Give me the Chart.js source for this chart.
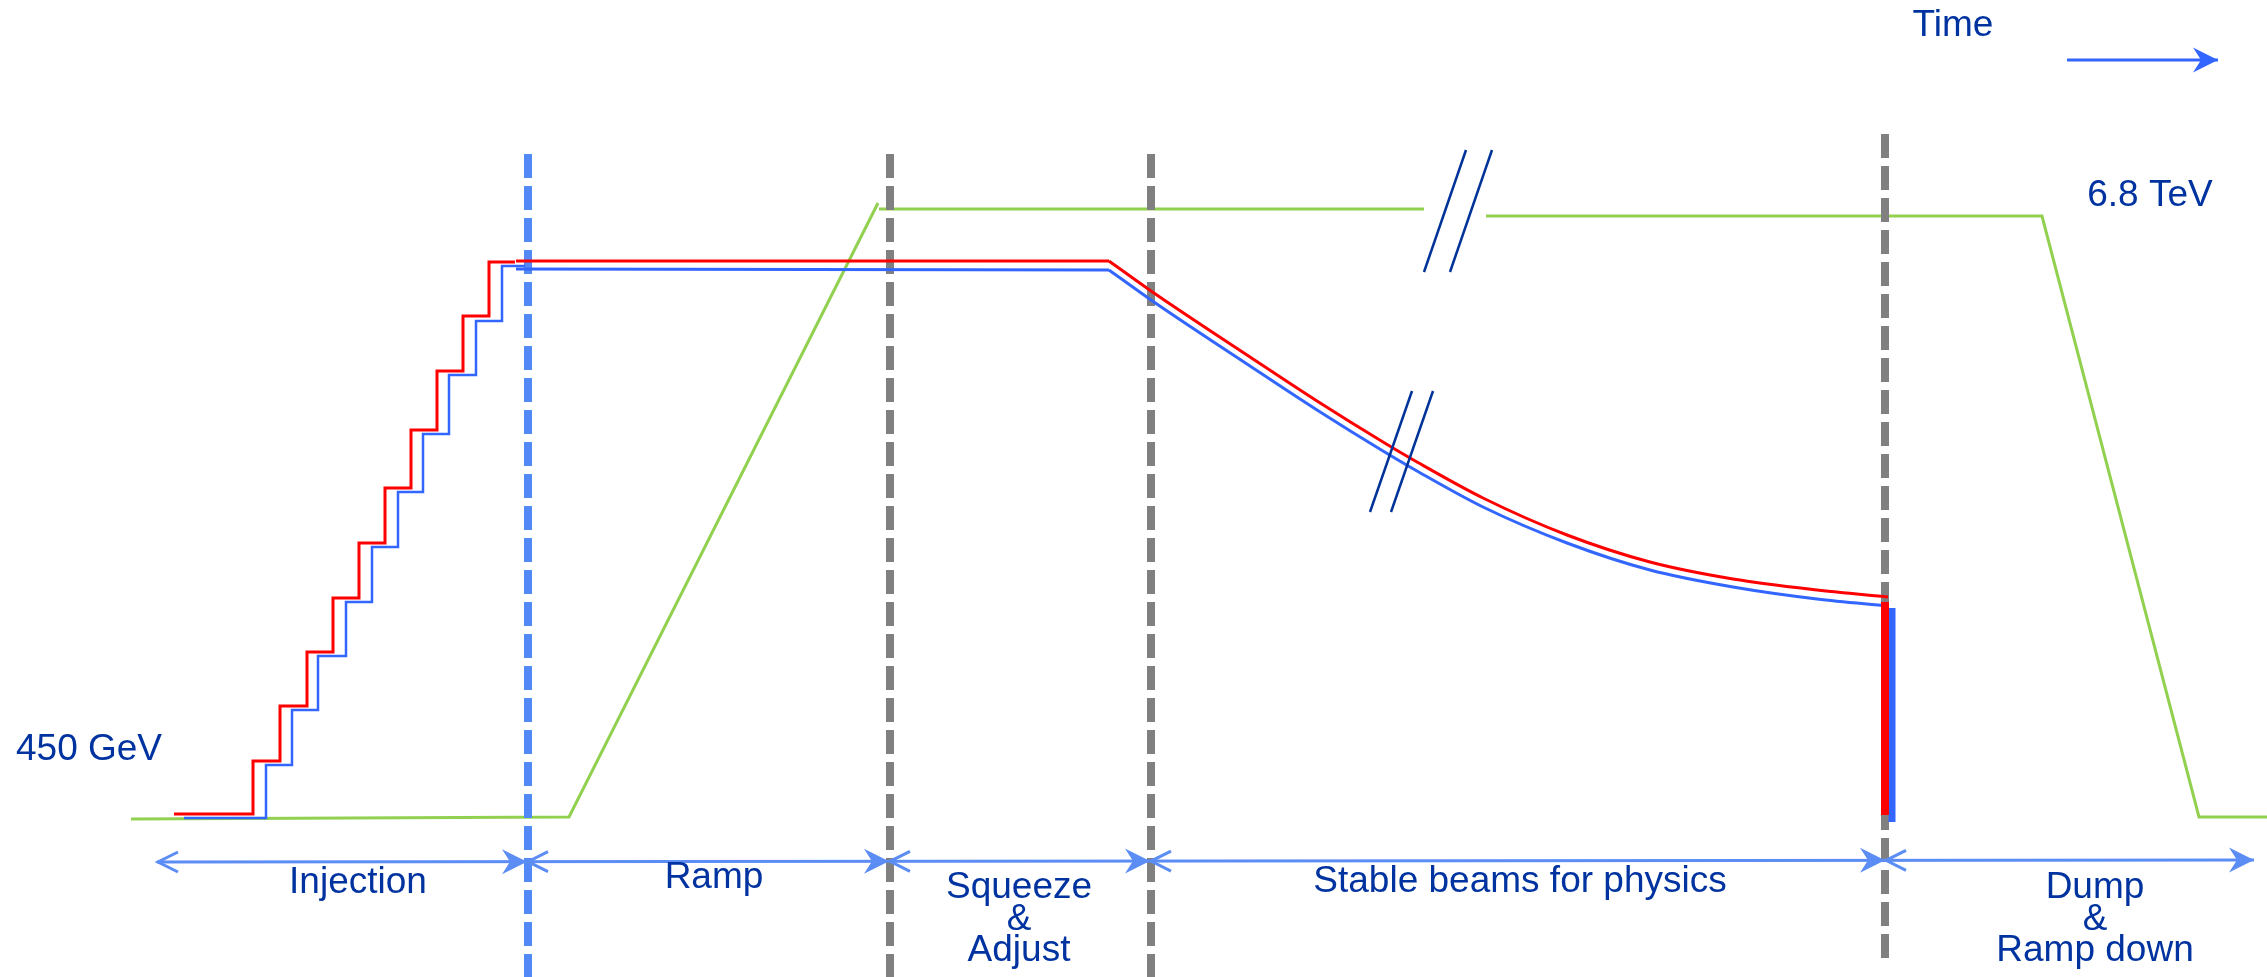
<!DOCTYPE html>
<html>
<head>
<meta charset="utf-8">
<title>LHC cycle</title>
<script src="https://cdn.jsdelivr.net/npm/chart.js@4.4.1/dist/chart.umd.min.js"></script>
<style>
  html, body { margin: 0; padding: 0; background: #ffffff; overflow: hidden; }
  #wrap { width: 2267px; height: 977px; }
</style>
</head>
<body>
<div id="wrap"><canvas id="c" width="2267" height="977"></canvas></div>
<script>
// ---- axis spans (arbitrary time units / arbitrary level units) ----
const timeRange = [0, 2267];
const levelRange = [0, 977];

// ---- beam intensity during injection (stepwise filling) ----
const redInjT     = [174, 253, 280, 307, 333, 359, 385, 411, 437, 463, 489, 515];
const redInjLevel = [163, 216, 271, 325, 379, 434, 489, 547, 606, 661, 715, 715];
const blueInjT     = [184, 266, 292, 318, 346, 372, 398, 423, 449, 476, 502, 525];
const blueInjLevel = [159, 212, 267, 321, 375, 430, 485, 543, 602, 656, 711, 711];

// ---- beam intensity: plateau through ramp/squeeze, then decay in physics ----
const redFlatT = [516, 1109];
const redFlatLevel = [716, 716];
const blueFlatT = [516, 1109];
const blueFlatLevel = [708, 707];
const decayT         = [1109, 1151, 1250, 1317, 1383, 1417, 1483, 1567, 1650, 1733, 1817, 1888];
const redDecayLevel  = [716, 686, 620, 576, 535, 515, 479, 442, 415, 398, 387, 380];
const blueDecayLevel = [707, 677, 611, 567, 526, 506, 470, 434, 407, 390, 378, 371];

// ---- beam dump ----
const redDumpT = [1885, 1885];
const redDumpLevel = [375, 162];
const blueDumpT = [1892, 1892];
const blueDumpLevel = [369, 155];

// ---- magnet energy (green): 450 GeV -> 6.8 TeV -> ramp down ----
const energyInjT = [131, 569, 878];
const energyInjLevel = [158, 160, 774];
const energyTopT = [879, 1424];
const energyTopLevel = [768, 768];
const energyEndT = [1486, 2042, 2199, 2267];
const energyEndLevel = [761, 761, 160, 160];

// ---- axis-break marks ----
const breakTopA = [[1466, 827], [1424, 705]];
const breakTopB = [[1492, 827], [1450, 705]];
const breakLowA = [[1412, 586], [1370, 465]];
const breakLowB = [[1433, 586], [1391, 465]];

// ---- phase boundaries ----
const injectionEndT = 528;
const phaseBoundaryT = [890, 1151];
const dumpT = 1885;
const boundaryTop = 823;
const dumpBoundaryTop = 843;
const dumpBoundaryBottom = 19;

// ---- phase arrows ----
const phaseArrowStart = 157;
const phaseArrowEnds = [527, 889, 1150, 1885, 2254];
const phaseArrowLevel = [115, 117];
const phaseNames = [
  ["Injection"],
  ["Ramp"],
  ["Squeeze", "&", "Adjust"],
  ["Stable beams for physics"],
  ["Dump", "&", "Ramp down"]
];
const phaseLabelT = [358, 714, 1019, 1520, 2095];
const phaseLabelLevel = [84, 89, 79, 85, 79];

// ---- other annotations ----
const timeLabel = "Time";
const timeLabelPos = [1953, 941];
const timeArrow = [[2067, 917], [2218, 917]];
const energyLabels = ["450 GeV", "6.8 TeV"];
const energyLabelPos = [[89, 217], [2150, 771]];

const pts = (ts, ls) => ts.map((t, i) => ({ x: t, y: ls[i] }));
const seg = arr => arr.map(p => ({ x: p[0], y: p[1] }));

const RED = '#FF0000', BLUE = '#3366FF', GREEN = '#92D050', GRAY = '#808080';
const DASHBLUE = '#5289F6', ARROWBLUE = '#5B8DF5', TEXTBLUE = '#0033A0', DARKBLUE = '#003399';

function lineDs(data, color, width, order, extra) {
  return Object.assign({
    data, borderColor: color, backgroundColor: color, borderWidth: width,
    showLine: true, pointRadius: 0, pointHoverRadius: 0, fill: false, tension: 0, order
  }, extra || {});
}

const datasets = [
  lineDs(pts(energyInjT, energyInjLevel), GREEN, 3, 9),
  lineDs(pts(energyTopT, energyTopLevel), GREEN, 3, 9),
  lineDs(pts(energyEndT, energyEndLevel), GREEN, 3, 9),
  lineDs([{x: injectionEndT, y: boundaryTop}, {x: injectionEndT, y: levelRange[0]}], DASHBLUE, 8, 7, {borderDash: [24, 8]}),
  ...phaseBoundaryT.map(t => lineDs([{x: t, y: boundaryTop}, {x: t, y: levelRange[0]}], GRAY, 8, 7, {borderDash: [24, 8]})),
  lineDs([{x: dumpT, y: dumpBoundaryTop}, {x: dumpT, y: dumpBoundaryBottom}], GRAY, 8, 7, {borderDash: [24, 8]}),
  lineDs(pts(blueInjT, blueInjLevel), BLUE, 2.5, 4, {stepped: 'before'}),
  lineDs(pts(blueFlatT, blueFlatLevel), BLUE, 3, 4),
  lineDs(pts(decayT, blueDecayLevel), BLUE, 3, 4, {cubicInterpolationMode: 'monotone'}),
  lineDs(pts(blueDumpT, blueDumpLevel), BLUE, 7, 4),
  lineDs(pts(redInjT, redInjLevel), RED, 3, 3, {stepped: 'before'}),
  lineDs(pts(redFlatT, redFlatLevel), RED, 3, 3),
  lineDs(pts(decayT, redDecayLevel), RED, 3, 3, {cubicInterpolationMode: 'monotone'}),
  lineDs(pts(redDumpT, redDumpLevel), RED, 8, 3),
  lineDs(seg(breakTopA), DARKBLUE, 2.5, 2),
  lineDs(seg(breakTopB), DARKBLUE, 2.5, 2),
  lineDs(seg(breakLowA), DARKBLUE, 2.5, 2),
  lineDs(seg(breakLowB), DARKBLUE, 2.5, 2),
  lineDs([{x: phaseArrowStart, y: phaseArrowLevel[0]}, {x: phaseArrowEnds[phaseArrowEnds.length - 1], y: phaseArrowLevel[1]}], ARROWBLUE, 3, 1),
  lineDs(seg(timeArrow), BLUE, 3, 1)
];

const overlay = {
  id: 'overlay',
  afterDatasetsDraw(chart) {
    const { ctx, scales: { x, y } } = chart;
    const X = v => x.getPixelForValue(v), Y = v => y.getPixelForValue(v);
    const arrowLevelAt = t => phaseArrowLevel[0] + (t - phaseArrowStart) /
      (phaseArrowEnds[phaseArrowEnds.length - 1] - phaseArrowStart) * (phaseArrowLevel[1] - phaseArrowLevel[0]);
    ctx.save();
    function head(t, l, color) {
      const px = X(t), py = Y(l);
      ctx.fillStyle = color;
      ctx.beginPath();
      ctx.moveTo(px, py);
      ctx.lineTo(px - 25, py - 12.5);
      ctx.lineTo(px - 17, py);
      ctx.lineTo(px - 25, py + 12.5);
      ctx.closePath();
      ctx.fill();
    }
    function chevron(t, l, color) {
      const px = X(t), py = Y(l);
      ctx.strokeStyle = color;
      ctx.lineWidth = 3;
      ctx.lineJoin = 'miter';
      ctx.beginPath();
      ctx.moveTo(px + 21, py - 10);
      ctx.lineTo(px + 1, py);
      ctx.lineTo(px + 21, py + 10);
      ctx.stroke();
    }
    chevron(phaseArrowStart, arrowLevelAt(phaseArrowStart), ARROWBLUE);
    phaseArrowEnds.forEach((t, i) => {
      head(t, arrowLevelAt(t), ARROWBLUE);
      if (i < phaseArrowEnds.length - 1) chevron(t, arrowLevelAt(t), ARROWBLUE);
    });
    head(timeArrow[1][0], timeArrow[1][1], BLUE);

    ctx.fillStyle = TEXTBLUE;
    ctx.font = '37px "Liberation Sans", Arial, sans-serif';
    ctx.textAlign = 'center';
    ctx.textBaseline = 'alphabetic';
    const lineGap = 31.5;
    phaseNames.forEach((lines, i) => {
      lines.forEach((txt, k) => {
        ctx.fillText(txt, X(phaseLabelT[i]), Y(phaseLabelLevel[i]) + k * lineGap);
      });
    });
    ctx.fillText(timeLabel, X(timeLabelPos[0]), Y(timeLabelPos[1]));
    energyLabels.forEach((txt, i) => ctx.fillText(txt, X(energyLabelPos[i][0]), Y(energyLabelPos[i][1])));
    ctx.restore();
  }
};

new Chart(document.getElementById('c'), {
  type: 'scatter',
  data: { datasets },
  options: {
    responsive: false,
    devicePixelRatio: 1,
    animation: false,
    layout: { padding: 0 },
    plugins: { legend: { display: false }, tooltip: { enabled: false } },
    events: [],
    scales: {
      x: { type: 'linear', min: timeRange[0], max: timeRange[1], display: false },
      y: { type: 'linear', min: levelRange[0], max: levelRange[1], display: false }
    }
  },
  plugins: [overlay]
});
</script>
</body>
</html>
